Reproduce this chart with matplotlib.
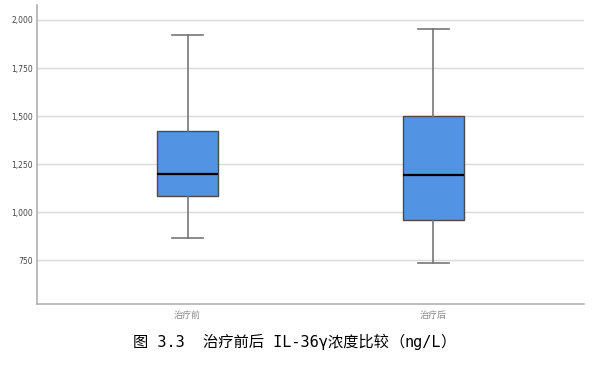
import matplotlib.pyplot as plt

plt.rcParams['font.family'] = ['Noto Sans CJK SC', 'DejaVu Sans']

# values (ng/L)
groups = ['治疗前', '治疗后']
whislo = [868, 738]
q1 = [1085, 957]
med = [1197, 1196]
q3 = [1420, 1500]
whishi = [1922, 1953]
yticks = [750, 1000, 1250, 1500, 1750, 2000]

box_color = '#5393e3'
edge_color = '#4a4a4a'
line_color = '#777777'
grid_color = '#d9d9d9'

fig = plt.figure(figsize=(6.02, 3.71), dpi=100)
fig.patch.set_facecolor('white')
ax = fig.add_axes([37 / 602, (371 - 303.7) / 371, (584 - 37) / 602, (303.7 - 5) / 371])

stats = []
for i, g in enumerate(groups):
    stats.append({'label': g, 'whislo': whislo[i], 'q1': q1[i], 'med': med[i],
                  'q3': q3[i], 'whishi': whishi[i], 'fliers': []})

ax.bxp(stats, positions=[0, 1], widths=0.25, capwidths=0.125, patch_artist=True,
       showfliers=False,
       boxprops=dict(facecolor=box_color, edgecolor=edge_color, linewidth=1.0),
       medianprops=dict(color='black', linewidth=1.6),
       whiskerprops=dict(color=line_color, linewidth=1.2),
       capprops=dict(color=line_color, linewidth=1.2))

ax.set_xlim(-0.612, 1.612)
ax.set_ylim(524, 2078)
ax.set_yticks(yticks)
ax.set_yticklabels([f'{v:,}' for v in yticks], fontsize=5.5, color='#444444',
                   family=['DejaVu Sans'])
ax.set_xticks([0, 1])
ax.set_xticklabels(groups, fontsize=6.5, color='#888888')
ax.tick_params(axis='both', length=0, pad=3)
ax.tick_params(axis='x', pad=5)

ax.yaxis.grid(True, color=grid_color, linewidth=1.0)
ax.set_axisbelow(True)
for side in ['top', 'right']:
    ax.spines[side].set_visible(False)
for side in ['left', 'bottom']:
    ax.spines[side].set_color('#b0b0b0')
    ax.spines[side].set_linewidth(1.2)

# caption: monospaced latin like the document font, CJK + full-width brackets from Noto
mono = ['DejaVu Sans Mono', 'Noto Sans CJK SC']
cjk = ['Noto Sans CJK SC']
t1 = fig.text(133 / 602, 1 - 342 / 371, '图 3.3  治疗前后 IL-36γ浓度比较',
              fontsize=11, color='black', ha='left', va='center', family=mono)
t2 = ax.annotate('（', xy=(1, 0.5), xycoords=t1, ha='left', va='center',
                 fontsize=11, color='black', family=cjk, annotation_clip=False)
t3 = ax.annotate('ng/L', xy=(1, 0.5), xycoords=t2, ha='left', va='center',
                 fontsize=11, color='black', family=mono, annotation_clip=False)
ax.annotate('）', xy=(1, 0.5), xycoords=t3, ha='left', va='center',
            fontsize=11, color='black', family=cjk, annotation_clip=False)

fig.savefig('out.png', dpi=100, facecolor='white')
